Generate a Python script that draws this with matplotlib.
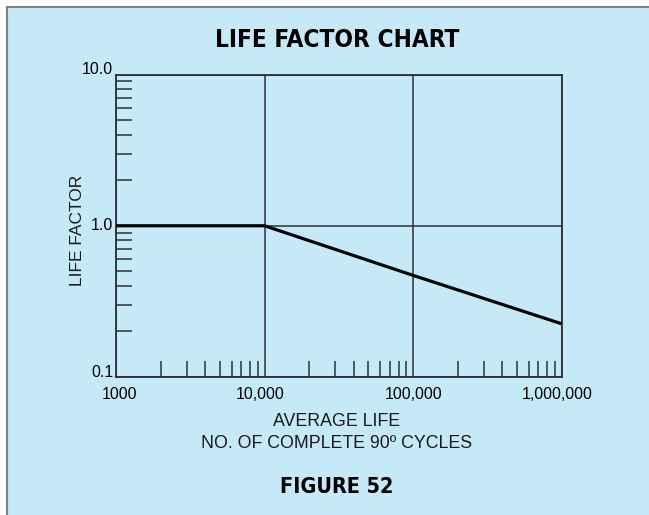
import matplotlib.pyplot as plt
import matplotlib.transforms as mtransforms
from matplotlib.patches import Rectangle
from matplotlib.ticker import FixedLocator, FixedFormatter, NullFormatter

plt.rcParams['font.family'] = ['Liberation Sans', 'DejaVu Sans']

# life factor vs average life (log-log)
cycles = [1000, 10000, 100000, 1000000]
factor = [1.0, 1.0, 0.47, 0.225]

x_ticks = [1000, 10000, 100000, 1000000]
x_labels = ['1000', '10,000', '100,000', '1,000,000']
y_ticks = [0.1, 1.0, 10.0]
y_labels = ['0.1', '1.0', '10.0']

bg = '#c6e9f8'
ink = '#2b2f33'

fig = plt.figure(figsize=(6.49, 5.15), dpi=100, facecolor='white')
fig.patches.append(Rectangle((6.5 / 649, -0.01), 1.0, 1 - 6.5 / 515 + 0.01,
                             transform=fig.transFigure, facecolor=bg,
                             edgecolor='#7a7f84', linewidth=1.5, zorder=-1))

ax = fig.add_axes([116 / 649, 138 / 515, 445.5 / 649, 302.5 / 515])
ax.set_facecolor(bg)
ax.set_xscale('log')
ax.set_yscale('log')
ax.set_xlim(1000, 1000000)
ax.set_ylim(0.1, 10.0)

ax.plot(cycles, factor, color='black', linewidth=2.3, solid_capstyle='butt', zorder=3)

# major positions: grid only, no tick marks
ax.xaxis.set_major_locator(FixedLocator(x_ticks))
ax.xaxis.set_major_formatter(FixedFormatter(x_labels))
ax.yaxis.set_major_locator(FixedLocator(y_ticks))
ax.yaxis.set_major_formatter(FixedFormatter(y_labels))
ax.xaxis.set_minor_locator(FixedLocator([m * 10 ** d for d in (3, 4, 5) for m in range(2, 10)]))
ax.yaxis.set_minor_locator(FixedLocator([m * 10 ** d for d in (-1, 0) for m in range(2, 10)]))
ax.xaxis.set_minor_formatter(NullFormatter())
ax.yaxis.set_minor_formatter(NullFormatter())

ax.tick_params(which='major', length=0, labelsize=11.5, colors='black')
ax.tick_params(axis='x', which='major', pad=7)
ax.tick_params(axis='y', which='major', pad=2)
ax.tick_params(which='minor', direction='in', length=11.5, width=1.1, color=ink)
for lbl, va in zip(ax.get_yticklabels(), ['baseline', 'center', 'baseline']):
    lbl.set_va(va)

# small horizontal nudges of the x labels (pixels)
for lbl, dx in zip(ax.get_xticklabels(), [3.5, -4.5, 1, -4.5]):
    lbl.set_transform(lbl.get_transform() +
                      mtransforms.ScaledTranslation(dx / 100, 0, fig.dpi_scale_trans))

ax.grid(True, which='major', color=ink, linewidth=1.1)
for s in ax.spines.values():
    s.set_color(ink)
    s.set_linewidth(1.3)

fig.text(337 / 649, 1 - 40 / 515, 'LIFE FACTOR CHART', ha='center', va='center',
         fontsize=17.5, fontweight='bold', family='DejaVu Sans', fontstretch='condensed')
fig.text(78 / 649, 1 - 230 / 515, 'LIFE FACTOR', rotation=90, ha='center', va='center',
         fontsize=12.5, color='#1a1a1a')
fig.text(337 / 649, 1 - 421 / 515, 'AVERAGE LIFE', ha='center', va='center',
         fontsize=12.8, color='#1a1a1a')
fig.text(337 / 649, 1 - 443 / 515, 'NO. OF COMPLETE 90\u00ba CYCLES', ha='center', va='center',
         fontsize=12.8, color='#1a1a1a')
fig.text(337 / 649, 1 - 487 / 515, 'FIGURE 52', ha='center', va='center',
         fontsize=15.5, fontweight='bold', family='DejaVu Sans', fontstretch='condensed')

fig.savefig('out.png', dpi=100, facecolor=fig.get_facecolor())
